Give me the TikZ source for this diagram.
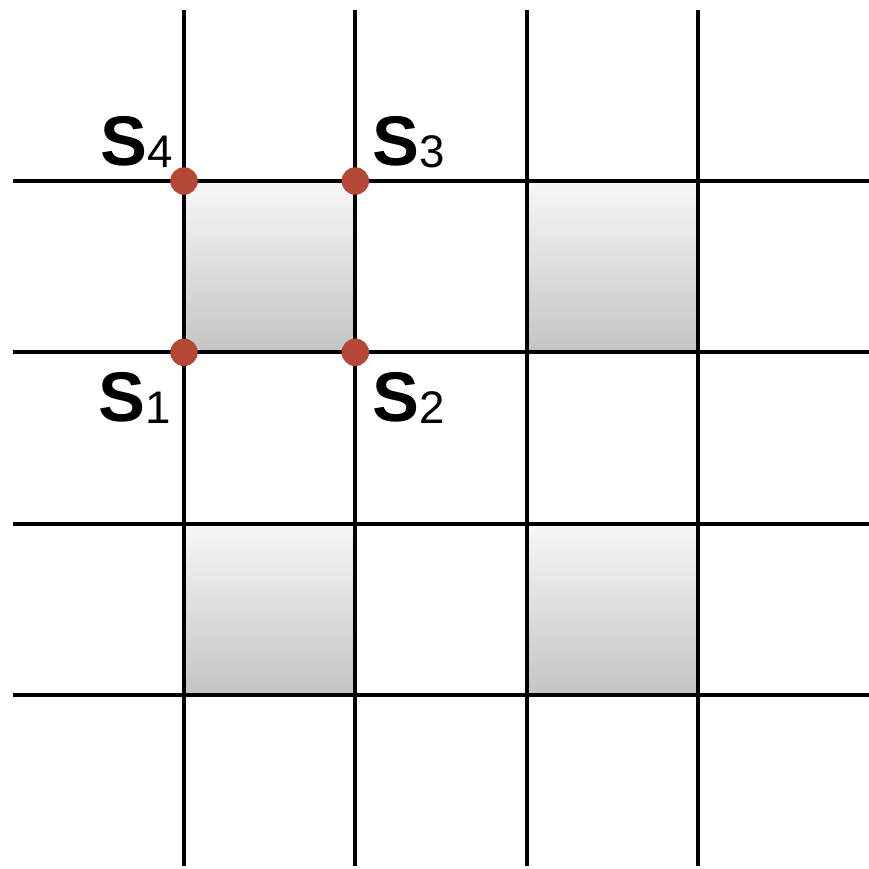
\documentclass[tikz,border=0pt]{standalone}
\usepackage{fontspec}
\newfontfamily\labelfont{Liberation Sans}
\usetikzlibrary{calc}

\definecolor{sitered}{RGB}{180,72,52}

\tikzset{
  gridline/.style={line width=2.3pt, black},
  cell/.style={top color=black!3, bottom color=black!23, draw=none},
  site/.style={fill=sitered, circle, inner sep=0pt, minimum size=5.5mm},
  slabel/.style={inner sep=0pt, font=\labelfont}
}
\newcommand{\sname}[1]{{\fontsize{40}{40}\selectfont\bfseries S}\raisebox{-0.5mm}{\fontsize{26}{26}\selectfont #1}}

\begin{document}
\begin{tikzpicture}[x=0.2mm, y=-0.2mm]
  \useasboundingbox (0, 0) rectangle (869, 868);

  \foreach \i in {0,1,2,3}
    \foreach \j in {0,1,2,3}
    {
      \coordinate (P-\i-\j) at ({184+171.3*\i}, {181+171.3*\j});
    }

  % shaded cells
  \foreach \i/\j in {0/0,2/0,0/2,2/2}
  {
    \pgfmathtruncatemacro{\ii}{\i+1}
    \pgfmathtruncatemacro{\jj}{\j+1}
    \fill [cell] (P-\i-\j) rectangle (P-\ii-\jj);
  }

  \foreach \z in {0,1,2,3}
  {
    \coordinate (T-\z) at (P-\z-0 |- 0, 10);
    \coordinate (B-\z) at (P-\z-0 |- 0, 866);
    \coordinate (L-\z) at (P-0-\z -| 13, 0);
    \coordinate (R-\z) at (P-0-\z -| 869, 0);
    \draw [gridline] (T-\z) -- (B-\z);
    \draw [gridline] (L-\z) -- (R-\z);
  }

  \node [site] (S1) at (P-0-1) {};
  \node [site] (S2) at (P-1-1) {};
  \node [site] (S3) at (P-1-0) {};
  \node [site] (S4) at (P-0-0) {};

  \node [slabel, anchor=base east] (S4-l) at ($(P-0-0) + (-11, -16)$) {\sname{4}};
  \node [slabel, anchor=base west] (S3-l) at ($(P-1-0) + (17, -16)$) {\sname{3}};
  \node [slabel, anchor=base east] (S1-l) at ($(P-0-1) + (-13, 69)$) {\sname{1}};
  \node [slabel, anchor=base west] (S2-l) at ($(P-1-1) + (17, 69)$) {\sname{2}};

\end{tikzpicture}
\end{document}
